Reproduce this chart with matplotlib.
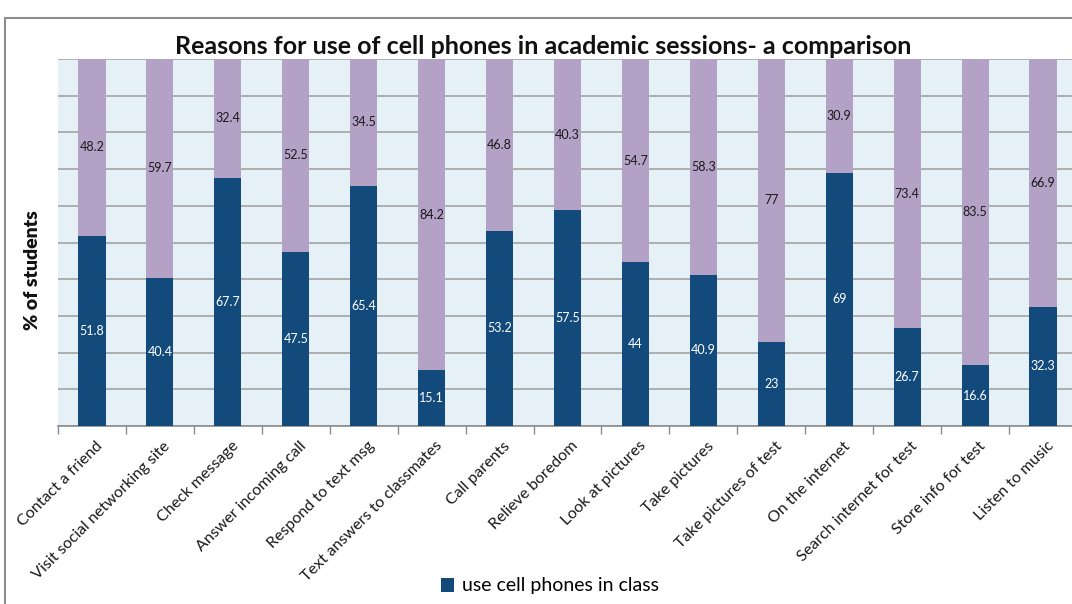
import matplotlib
matplotlib.use("Agg")
import matplotlib.pyplot as plt
import numpy as np
from matplotlib.patches import Rectangle

# reasons and percentages of students
reasons = [
    "Contact a friend", "Visit social networking site", "Check message",
    "Answer incoming call", "Respond to text msg", "Text answers to classmates",
    "Call parents", "Relieve boredom", "Look at pictures", "Take pictures",
    "Take pictures of test", "On the internet", "Search internet for test",
    "Store info for test", "Listen to music",
]
in_class = [51.8, 40.4, 67.7, 47.5, 65.4, 15.1, 53.2, 57.5, 44, 40.9, 23, 69, 26.7, 16.6, 32.3]
other = [48.2, 59.7, 32.4, 52.5, 34.5, 84.2, 46.8, 40.3, 54.7, 58.3, 77, 30.9, 73.4, 83.5, 66.9]

BLUE = "#124a7c"
PURPLE = "#b4a2c6"
PLOT_BG = "#e6f1f7"
GRID = "#a3a3a3"

plt.rcParams["font.family"] = ["Lato", "DejaVu Sans"]

# 100% stacked: each column is scaled to its own total
a = np.array(in_class, float)
b = np.array(other, float)
tot = a + b
a_pct = a / tot * 100
b_pct = b / tot * 100

fig = plt.figure(figsize=(10.72, 6.04), dpi=100)
fig.patch.set_facecolor("white")

# chart frame (runs off the right and bottom edges)
fig.add_artist(Rectangle((5 / 1072, -0.05), 1.2, 1 - 18 / 604 + 0.05,
                         transform=fig.transFigure, fill=False,
                         edgecolor="#8c8c8c", lw=1.5))

ax = fig.add_axes([58 / 1072, 1 - 426 / 604, 1019 / 1072, 367 / 604])
ax.set_facecolor(PLOT_BG)

x = np.arange(len(reasons))
ax.bar(x, a_pct, width=0.4, color=BLUE, zorder=3,
       label="use cell phones in class")
ax.bar(x, b_pct, width=0.4, bottom=a_pct, color=PURPLE, zorder=3)

for xi, va_, vb, ha_, hb in zip(x, in_class, other, a_pct, b_pct):
    ax.text(xi, ha_ / 2, f"{va_:g}", ha="center", va="center", color="white",
            fontsize=9, zorder=4)
    ax.text(xi, ha_ + hb / 2, f"{vb:g}", ha="center", va="center",
            color="#1a1a1a", fontsize=9, zorder=4)

ax.set_xlim(-0.5, len(reasons) - 0.5)
ax.set_ylim(0, 100)
ax.set_yticks(np.arange(0, 101, 10))
ax.set_yticklabels([])
ax.tick_params(axis="y", length=0)
ax.grid(axis="y", color=GRID, lw=1.2, zorder=1)
ax.set_axisbelow(True)

ax.set_xticks(x - 0.5)
ax.set_xticklabels([])
ax.tick_params(axis="x", direction="out", length=6, color="#8c8c8c", width=1)
for xi, name in zip(x, reasons):
    ax.text(xi + 0.05, -3.5, name, rotation=45, ha="right", va="top",
            rotation_mode="anchor", fontsize=11.5, color="#1a1a1a",
            clip_on=False)

for side in ("left", "right", "top"):
    ax.spines[side].set_visible(False)
ax.spines["bottom"].set_color("#8c8c8c")
ax.spines["bottom"].set_linewidth(1.2)

fig.text(33 / 1072, 1 - 270 / 604, "% of students", rotation=90,
         ha="center", va="center", fontsize=14, fontweight="heavy",
         color="#111111")

fig.text(543 / 1072, 1 - 47 / 604,
         "Reasons for use of cell phones in academic sessions- a comparison",
         ha="center", va="center", fontsize=18, fontweight="bold",
         color="#111111")

fig.legend(loc="center", bbox_to_anchor=(550 / 1072, 1 - 586 / 604),
           frameon=False, fontsize=14, handlelength=0.7, handleheight=0.7,
           handletextpad=0.4)

fig.savefig("out.png", dpi=100, facecolor="white")
